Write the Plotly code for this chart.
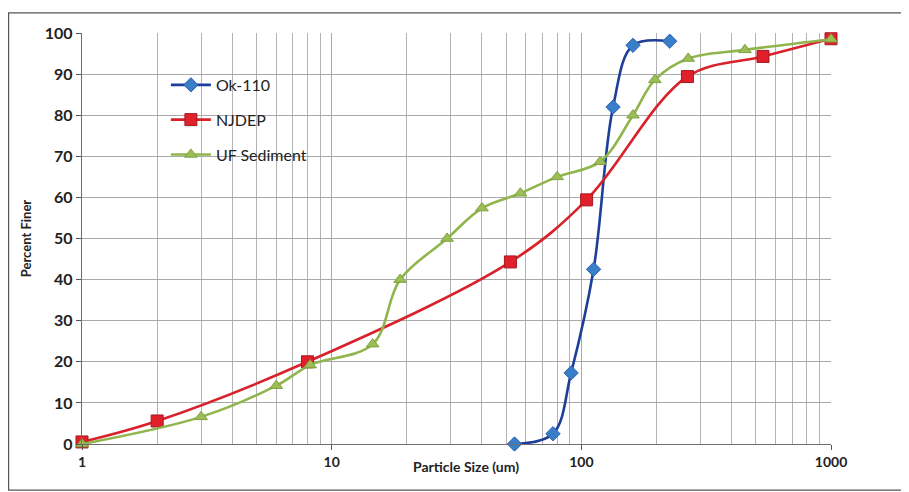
import plotly.graph_objects as go

# ---- data ----
ok110_x = [54, 77, 91, 112, 134, 161, 226]
ok110_y = [0, 2.5, 17.3, 42.5, 82, 97, 98]

njdep_x = [1, 2, 8, 52, 105, 266, 534, 1000]
njdep_y = [0.5, 5.6, 20, 44.3, 59.4, 89.4, 94.3, 98.6]

uf_x = [1, 3, 6, 8.2, 14.6, 18.8, 29, 40, 57, 80, 119, 161, 197, 268, 452, 1000]
uf_y = [0, 6.6, 14.2, 19.2, 24.3, 40, 50, 57.4, 61, 65, 68.7, 80, 88.6, 93.8, 95.9, 98.5]

y_ticks = [0, 10, 20, 30, 40, 50, 60, 70, 80, 90, 100]
x_ticks = [1, 10, 100, 1000]

FONT = "Lato"

fig = go.Figure()

fig.add_trace(go.Scatter(
    x=ok110_x, y=ok110_y, name="Ok-110", mode="lines+markers",
    line=dict(color="#1d3f9a", width=2.6, shape="spline", smoothing=1),
    marker=dict(symbol="diamond", size=11, color="#3a7dc9",
                line=dict(color="#2b62b0", width=1)),
    legendgroup="a", cliponaxis=False,
))
fig.add_trace(go.Scatter(
    x=njdep_x, y=njdep_y, name="NJDEP", mode="lines+markers",
    line=dict(color="#d9212c", width=2.6, shape="spline", smoothing=1),
    marker=dict(symbol="square", size=12, color="#e0202a",
                line=dict(color="#a51820", width=1)),
    legendgroup="b", cliponaxis=False,
))
fig.add_trace(go.Scatter(
    x=uf_x, y=uf_y, name="UF Sediment", mode="lines+markers",
    line=dict(color="#8fb54c", width=2.6, shape="spline", smoothing=1),
    marker=dict(symbol="triangle-up", size=11, color="#9bbf55",
                line=dict(color="#7fa040", width=1)),
    legendgroup="c", cliponaxis=False,
))

fig.update_layout(
    width=901, height=484,
    margin=dict(l=74, r=78, t=25, b=48),
    paper_bgcolor="white", plot_bgcolor="white",
    font=dict(family=FONT, color="#222222"),
    showlegend=True,
    legend=dict(
        x=0.112, y=0.915, xanchor="left", yanchor="top",
        bgcolor="rgba(0,0,0,0)", borderwidth=0,
        font=dict(family=FONT, size=16, color="#222222"),
        traceorder="grouped", tracegroupgap=11, itemwidth=40,
    ),
    xaxis=dict(
        type="log", range=[0, 3],
        tickvals=x_ticks, ticktext=[str(v) for v in x_ticks],
        tickfont=dict(family=FONT, size=14, weight="bold", color="#222222"),
        ticks="outside", ticklen=5, tickcolor="#555555",
        showgrid=True, gridcolor="#a9a9a9", gridwidth=1,
        minor=dict(dtick="D1", showgrid=True, gridcolor="#b3b3b3", gridwidth=1, ticks=""),
        showline=True, linecolor="#6e6e6e", linewidth=1.3,
        zeroline=False,
    ),
    yaxis=dict(
        range=[0, 100],
        tickvals=y_ticks,
        tickfont=dict(family=FONT, size=16, weight="bold", color="#222222"),
        ticks="outside", ticklen=5, tickcolor="#555555",
        showgrid=True, gridcolor="#a9a9a9", gridwidth=1,
        showline=True, linecolor="#6e6e6e", linewidth=1.3,
        zeroline=False,
        title=dict(text="Percent Finer", standoff=10,
                   font=dict(family=FONT, size=13, weight="bold", color="#222222")),
    ),
    annotations=[
        dict(text="Particle Size (um)", xref="paper", yref="paper",
             x=0.513, y=-0.054, xanchor="center", yanchor="middle", showarrow=False,
             font=dict(family=FONT, size=14, weight="bold", color="#222222")),
    ],
    shapes=[
        dict(type="rect", xref="paper", yref="paper",
             x0=-0.098, x1=1.11, y0=-0.112, y1=1.049,
             line=dict(color="#555555", width=1.2), fillcolor="rgba(0,0,0,0)",
             layer="below"),
    ],
)

fig.write_html("out.html")
